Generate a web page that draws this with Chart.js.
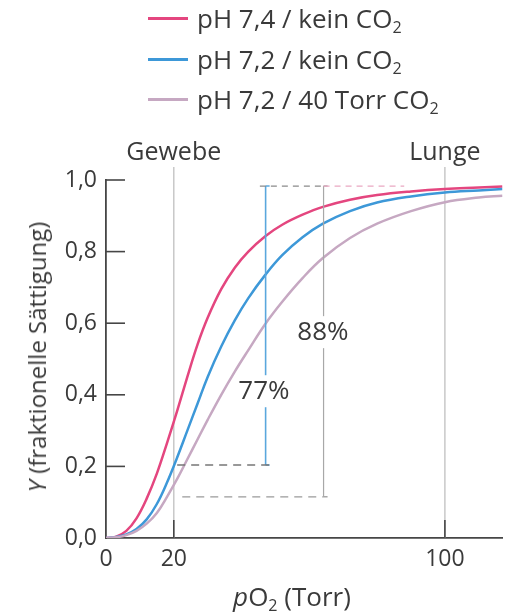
<!DOCTYPE html>
<html>
<head>
<meta charset="utf-8">
<script src="https://cdn.jsdelivr.net/npm/chart.js@4"></script>
<style>
  body { margin: 0; background: #fff; }
  #wrap { position: relative; width: 508px; height: 614px; font-family: 'Open Sans', sans-serif; color: #3a3a3a; }
  #chart { position: absolute; left: 0; top: 0; }
  .txt { position: absolute; white-space: nowrap; font-size: 25px; line-height: 30px; }
  .row { position: absolute; left: 148px; height: 30px; font-size: 26px; line-height: 30px; white-space: nowrap; }
  .row .ln { position: absolute; left: 0; top: 14px; width: 40px; height: 2.6px; }
  .row .lb { position: absolute; left: 49px; top: 0; }
  sub { font-size: 0.62em; vertical-align: -0.3em; line-height: 0; }
</style>
</head>
<body>
<div id="wrap">
  <canvas id="chart" width="508" height="614"></canvas>
  <div class="row" style="top:3px"><span class="ln" id="ln0"></span><span class="lb">pH 7,4 / kein CO<sub>2</sub></span></div>
  <div class="row" style="top:44px"><span class="ln" id="ln1"></span><span class="lb">pH 7,2 / kein CO<sub>2</sub></span></div>
  <div class="row" style="top:84px"><span class="ln" id="ln2"></span><span class="lb">pH 7,2 / 40 Torr CO<sub>2</sub></span></div>
  <div class="txt" id="gewebe">Gewebe</div>
  <div class="txt" id="lunge">Lunge</div>
  <div class="txt" id="ytitle" style="font-size:24px"><i>Y</i> (fraktionelle Sättigung)</div>
  <div class="txt" id="xtitle" style="font-size:26px"><i>p</i>O<sub>2</sub> (Torr)</div>
</div>
<script>
// Sauerstoffbindungskurven, Werte
const pO2 = [0, 3, 6, 9, 12, 15, 18, 21, 24, 27, 30, 34, 38, 42, 47, 52, 58, 64, 72, 80, 90, 100, 110, 117]
const ph74 = [0, 0.004, 0.02, 0.055, 0.11, 0.18, 0.265, 0.355, 0.45, 0.54, 0.615, 0.695, 0.755, 0.80, 0.843, 0.875, 0.903, 0.925, 0.945, 0.958, 0.968, 0.975, 0.979, 0.982]
const ph72 = [0, 0.003, 0.01, 0.025, 0.052, 0.095, 0.155, 0.225, 0.30, 0.375, 0.45, 0.535, 0.608, 0.67, 0.735, 0.79, 0.84, 0.878, 0.913, 0.937, 0.954, 0.965, 0.971, 0.975]
const ph72co2 = [0, 0.002, 0.008, 0.02, 0.04, 0.07, 0.115, 0.165, 0.22, 0.275, 0.33, 0.40, 0.465, 0.525, 0.598, 0.66, 0.726, 0.782, 0.838, 0.878, 0.913, 0.938, 0.951, 0.956]

const seriesNames = ['pH 7,4 / kein CO2', 'pH 7,2 / kein CO2', 'pH 7,2 / 40 Torr CO2']
const seriesColors = ['#e4467f', '#3d98d8', '#c6a8c2']

const xTicks = [0, 20, 100]
const yTicks = [0, 0.2, 0.4, 0.6, 0.8, 1.0]
const markLines = [20, 100]   // Gewebe, Lunge

// Differenzen 77 % und 88 %
const topLevel = 0.983
const blueX = 47.1, blueLow = 0.204
const grayX = 64.2, grayLow = 0.115
const bracketLabels = [
  { text: '77%', x: 46.6, y: 0.41 },
  { text: '88%', x: 64.0, y: 0.575 }
]

const axisColor = '#464646'
const textColor = '#3a3a3a'

const pts = (xs, ys) => xs.map((x, i) => ({ x: x, y: ys[i] }))

const curve = (i, ys) => ({
  label: seriesNames[i],
  data: pts(pO2, ys),
  borderColor: seriesColors[i],
  borderWidth: 2.5,
  pointRadius: 0,
  tension: 0.4,
  fill: false
})

const seg = (data, color, width, dash, caps) => ({
  data: data,
  borderColor: color,
  backgroundColor: color,
  borderWidth: width,
  borderDash: dash || [],
  pointRadius: caps ? 4 : 0,
  pointStyle: 'dash',
  pointBorderColor: color,
  pointBorderWidth: 1.5,
  tension: 0,
  fill: false
})

const guides = {
  id: 'guides',
  beforeDatasetsDraw(chart) {
    const { ctx, chartArea: a, scales: { x, y } } = chart
    ctx.save()
    ctx.strokeStyle = '#c8c8c8'
    ctx.lineWidth = 1.5
    markLines.forEach(v => {
      const px = x.getPixelForValue(v)
      ctx.beginPath(); ctx.moveTo(px, a.bottom); ctx.lineTo(px, a.top - 13); ctx.stroke()
    })
    ctx.strokeStyle = axisColor
    ctx.lineWidth = 1.6
    markLines.forEach(v => {
      const px = x.getPixelForValue(v)
      ctx.beginPath(); ctx.moveTo(px, a.bottom); ctx.lineTo(px, a.bottom - 18); ctx.stroke()
    })
    yTicks.slice(1).forEach(v => {
      const py = y.getPixelForValue(v)
      ctx.beginPath(); ctx.moveTo(a.left, py); ctx.lineTo(a.left + 19, py); ctx.stroke()
    })
    ctx.restore()
  },
  afterDatasetsDraw(chart) {
    const { ctx, scales: { x, y } } = chart
    ctx.save()
    ctx.font = "26px 'Open Sans', sans-serif"
    ctx.textAlign = 'center'
    ctx.textBaseline = 'middle'
    bracketLabels.forEach(l => {
      const px = x.getPixelForValue(l.x), py = y.getPixelForValue(l.y)
      const w = ctx.measureText(l.text).width + 8
      ctx.fillStyle = '#fff'
      ctx.fillRect(px - w / 2, py - 16, w, 32)
      ctx.fillStyle = textColor
      ctx.fillText(l.text, px, py)
    })
    ctx.restore()
  }
}

Chart.defaults.font.family = "'Open Sans', sans-serif"
Chart.defaults.color = textColor

const chart = new Chart(document.getElementById('chart'), {
  type: 'line',
  data: {
    datasets: [
      seg([{ x: 45.4, y: topLevel }, { x: grayX, y: topLevel }], '#8a8a8a', 1.3, [6, 5]),
      seg([{ x: grayX, y: topLevel }, { x: 88, y: topLevel }], '#eaa8c2', 1.3, [6, 5]),
      seg([{ x: 21, y: blueLow }, { x: 49.6, y: blueLow }], '#777777', 1.4, [8, 6]),
      seg([{ x: 22.5, y: grayLow }, { x: grayX, y: grayLow }], '#9a9a9a', 1.3, [8, 6]),
      seg([{ x: blueX, y: topLevel }, { x: blueX, y: blueLow }], '#5aa7dd', 1.6, null, true),
      seg([{ x: grayX, y: topLevel }, { x: grayX, y: grayLow }], '#a8a8a8', 1.2, null, true),
      curve(2, ph72co2),
      curve(1, ph72),
      curve(0, ph74)
    ]
  },
  options: {
    responsive: false,
    animation: false,
    layout: { padding: { top: 180, left: 0, right: 0, bottom: 0 } },
    plugins: { legend: { display: false }, tooltip: { enabled: false } },
    scales: {
      x: {
        type: 'linear', min: 0, max: 117,
        afterBuildTicks: s => { s.ticks = xTicks.map(v => ({ value: v })) },
        afterFit: s => { s.height = 76 },
        grid: { display: false, drawTicks: false },
        border: { color: axisColor, width: 1.8 },
        ticks: { padding: 8, maxRotation: 0, autoSkip: false, font: { size: 23 }, color: textColor }
      },
      y: {
        type: 'linear', min: 0, max: 1,
        afterBuildTicks: s => { s.ticks = yTicks.map(v => ({ value: v })) },
        afterFit: s => { s.width = 106 },
        grid: { display: false, drawTicks: false },
        border: { color: axisColor, width: 1.8 },
        ticks: { padding: 9, font: { size: 23 }, color: textColor, callback: v => v.toFixed(1).replace('.', ',') }
      }
    }
  },
  plugins: [guides]
})

// Legende und Beschriftungen
seriesColors.forEach((c, i) => { document.getElementById('ln' + i).style.background = c })
const place = (id, cx, cy, rot) => {
  const el = document.getElementById(id)
  el.style.left = cx + 'px'
  el.style.top = cy + 'px'
  el.style.transform = 'translate(-50%, -50%)' + (rot ? ' rotate(-90deg)' : '')
}
place('gewebe', chart.scales.x.getPixelForValue(markLines[0]), 150)
place('lunge', chart.scales.x.getPixelForValue(markLines[1]), 150)
place('ytitle', 37, 357, true)
place('xtitle', 292, 596)
</script>
</body>
</html>
